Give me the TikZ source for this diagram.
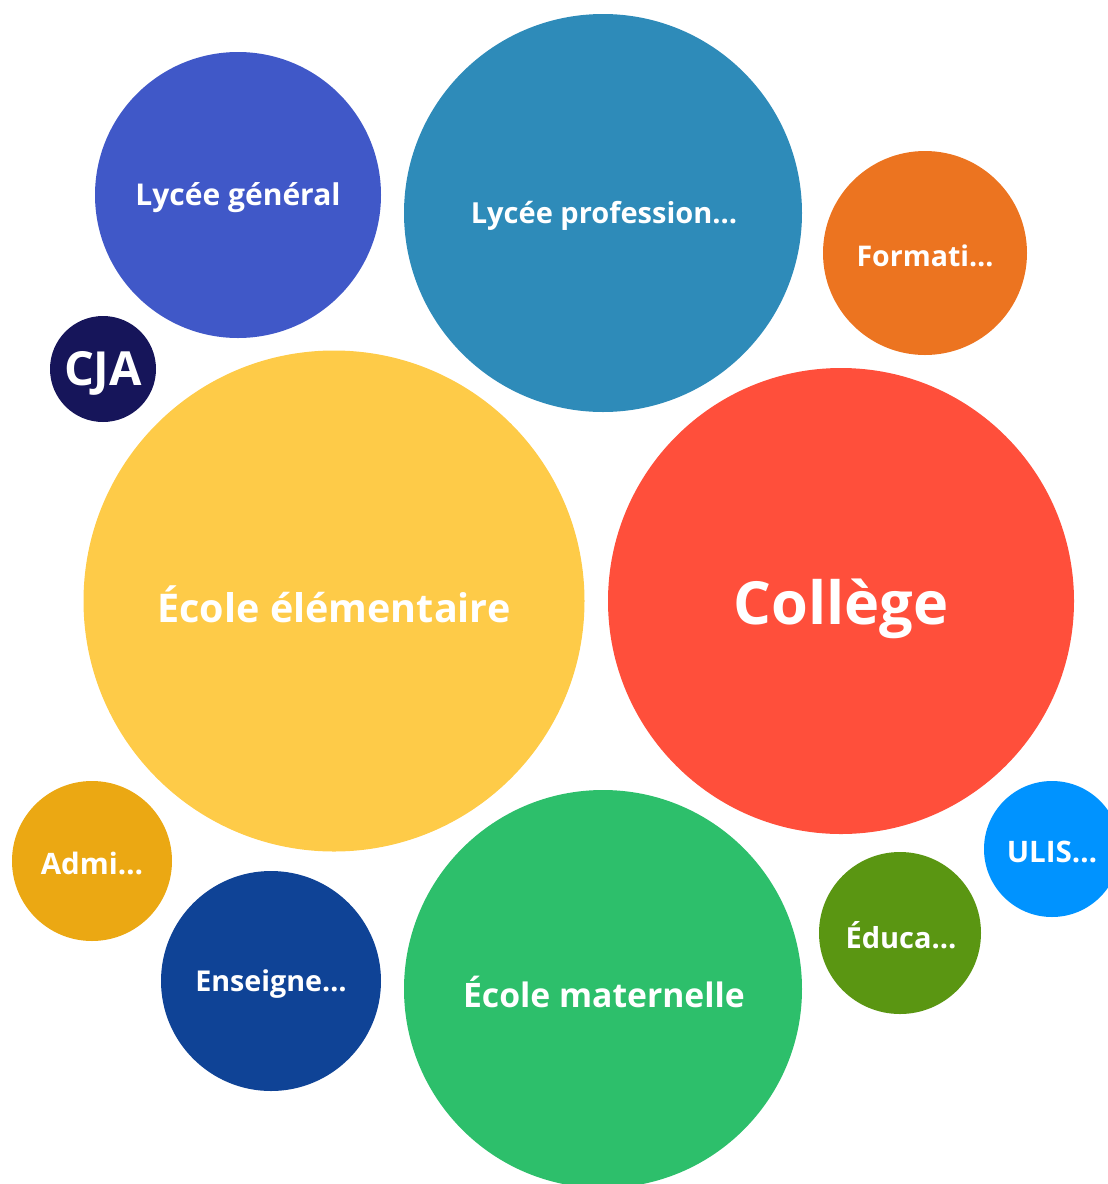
\documentclass[tikz,border=0pt]{standalone}
\usepackage{fontspec}
\setmainfont{Open Sans}
\definecolor{cLG}{HTML}{4058C8}
\definecolor{cLP}{HTML}{2E8BB9}
\definecolor{cFO}{HTML}{EC7420}
\definecolor{cCJ}{HTML}{16155A}
\definecolor{cEE}{HTML}{FECB48}
\definecolor{cCO}{HTML}{FF4F3B}
\definecolor{cAD}{HTML}{EBA813}
\definecolor{cEN}{HTML}{0F4396}
\definecolor{cEM}{HTML}{2DBF6B}
\definecolor{cED}{HTML}{5A9612}
\definecolor{cUL}{HTML}{0093FF}
\tikzset{
  bubble/.style={circle, inner sep=0pt, fill=#1},
  lbl/.style={inner sep=0pt, text=white, font=\bfseries\fontsize{#1}{#1}\selectfont},
}
\begin{document}
\begin{tikzpicture}[x=1pt,y=-1pt]
\useasboundingbox (0,0) rectangle (1108,1184);
\clip (0,0) rectangle (1108,1184);
\node[bubble=cLG, minimum size=286pt] (lg) at (238,195) {};
\node[lbl=30] (lgt) at (238,198) {Lycée général};
\node[bubble=cLP, minimum size=398pt] (lp) at (603,213) {};
\node[lbl=29] (lpt) at (604,216) {Lycée profession…};
\node[bubble=cFO, minimum size=204pt] (fo) at (925,253) {};
\node[lbl=28.5] (fot) at (925,256) {Formati…};
\node[bubble=cCJ, minimum size=106pt] (cj) at (103,369) {};
\node[lbl=47] (cjt) at (103,373) {CJA};
\node[bubble=cEE, minimum size=501pt] (ee) at (334,601) {};
\node[lbl=39.5] (eet) at (334,604) {École élémentaire};
\node[bubble=cCO, minimum size=466pt] (co) at (841,601) {};
\node[lbl=59.5] (cot) at (841,609) {Collège};
\node[bubble=cAD, minimum size=160pt] (ad) at (92,861) {};
\node[lbl=29.5] (adt) at (92,863) {Admi…};
\node[bubble=cEN, minimum size=220pt] (en) at (271,981) {};
\node[lbl=28.7] (ent) at (271,984) {Enseigne…};
\node[bubble=cEM, minimum size=398pt] (em) at (603,989) {};
\node[lbl=33.7] (emt) at (604,992) {École maternelle};
\node[bubble=cED, minimum size=162pt] (ed) at (900,933) {};
\node[lbl=29] (edt) at (901,935) {Éduca…};
\node[bubble=cUL, minimum size=136pt] (ul) at (1052,849) {};
\node[lbl=29.6] (ult) at (1052,852) {ULIS…};
\end{tikzpicture}
\end{document}
